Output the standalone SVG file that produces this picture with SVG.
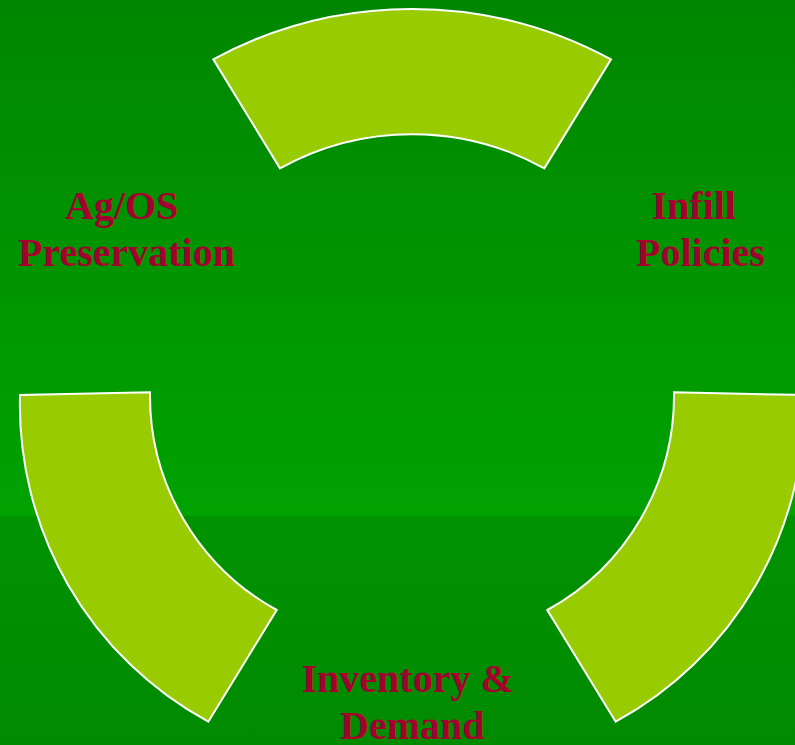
<svg xmlns="http://www.w3.org/2000/svg" width="795" height="745" viewBox="0 0 795 745">
  <defs>
    <linearGradient id="bgTop" x1="0" y1="0" x2="0" y2="1">
      <stop offset="0" stop-color="#008600"/>
      <stop offset="1" stop-color="#00a200"/>
    </linearGradient>
    <linearGradient id="bgBot" x1="0" y1="0" x2="0" y2="1">
      <stop offset="0" stop-color="#009200"/>
      <stop offset="1" stop-color="#008a00"/>
    </linearGradient>
    <style>
      .arc { fill: #99cc00; stroke: #ffffff; stroke-width: 2; stroke-linejoin: miter; }
      .lbl { font-family: "Liberation Serif", "Times New Roman", serif; font-weight: bold; font-size: 40px; fill: #a3002e; }
    </style>
  </defs>
  <rect x="0" y="0" width="795" height="516" fill="url(#bgTop)"/>
  <rect x="0" y="516" width="795" height="229" fill="url(#bgBot)"/>

  <g id="arc-top">
    <path class="arc" d="M213.3,59.3 A418,418 0 0 1 611,59.3 L544.3,168.3 A273,273 0 0 0 280,168.3 Z"/>
  </g>
  <g id="arc-left">
    <path class="arc" d="M20,395 A361,361 0 0 0 208.3,721.7 L276.7,610 A245,245 0 0 1 150,392.3 Z"/>
  </g>
  <g id="arc-right">
    <path class="arc" d="M804,395 A361,361 0 0 1 615.7,721.7 L547.3,610 A245,245 0 0 0 674,392.3 Z"/>
  </g>

  <g id="label-agos">
    <text class="lbl" x="65" y="219">Ag/OS</text>
    <text class="lbl" x="18" y="266">Preservation</text>
  </g>
  <g id="label-infill">
    <text class="lbl" x="651.5" y="219">Infill</text>
    <text class="lbl" x="636" y="266">Policies</text>
  </g>
  <g id="label-inventory">
    <text class="lbl" x="301.5" y="692">Inventory &amp;</text>
    <text class="lbl" x="340" y="739">Demand</text>
  </g>
  <g id="connectors"/>
</svg>
